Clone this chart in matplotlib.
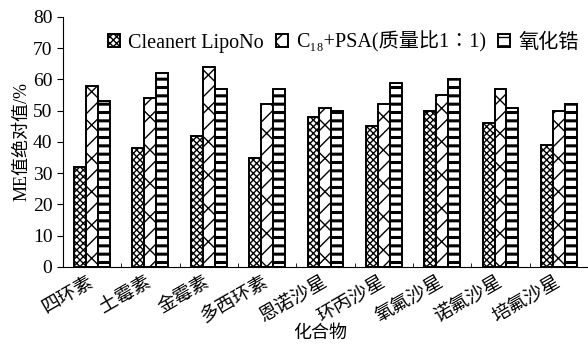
import matplotlib.pyplot as plt
import numpy as np

plt.rcParams['font.family'] = ['Liberation Serif', 'Noto Sans CJK SC', 'DejaVu Serif']

compounds = ['四环素', '土霉素', '金霉素', '多西环素', '恩诺沙星',
             '环丙沙星', '氧氟沙星', '诺氟沙星', '培氟沙星']
lipono = [32, 38, 42, 35, 48, 45, 50, 46, 39]
c18_psa = [58, 54, 64, 52, 51, 52, 55, 57, 50]
zro2 = [53, 62, 57, 57, 50, 59, 60, 51, 52]
labels = ['Cleanert LipoNo', 'C₁₈+PSA(质量比1∶1)', '氧化锆']

fig = plt.figure(figsize=(5.88, 3.44), dpi=100)
ax = fig.add_axes([0.107, 0.224, 0.893, 0.727])

x = np.arange(len(compounds))
w = 0.205
styles = [(lipono, -w, 'xxxxx', 1.0), (c18_psa, 0, '/x', 1.0), (zro2, w, '--', 2.2)]
for (vals, off, hatch, hlw), lab in zip(styles, labels):
    with plt.rc_context({'hatch.linewidth': hlw}):
        bars = ax.bar(x + off, vals, w, color='white', edgecolor='black', hatch=hatch,
                      linewidth=1.4, label=lab)
        for b in bars:
            if hasattr(b, 'set_hatch_linewidth'):
                b.set_hatch_linewidth(hlw)

ax.set_xlim(-0.5, len(compounds) - 0.5)
ax.set_ylim(0, 80)
ax.set_yticks(range(0, 81, 10))
ax.set_xticks(x)
ax.set_xticklabels(compounds, rotation=30, ha='right', va='center',
                   rotation_mode='anchor', fontsize=13.5)
ax.set_xticks(np.arange(0.5, len(compounds) - 0.5, 1), minor=True)
ax.tick_params(axis='x', which='major', length=0, pad=10)
ax.tick_params(axis='x', which='minor', direction='in', length=3)
ax.tick_params(axis='y', labelsize=14, direction='out', length=4)
for s in ['top', 'right']:
    ax.spines[s].set_visible(False)
ax.set_ylabel('ME值绝对值/%', fontsize=13, labelpad=2)
ax.set_xlabel('化合物', fontsize=13, va='center')
ax.xaxis.set_label_coords(0.49, -0.265)

ax.legend(loc='center', bbox_to_anchor=(0.534, 0.9), ncol=3, frameon=False,
          fontsize=14.5, handlelength=0.6, handleheight=0.6, handletextpad=0.4,
          columnspacing=0.6, borderaxespad=0)

fig.savefig('out.png', dpi=100)
